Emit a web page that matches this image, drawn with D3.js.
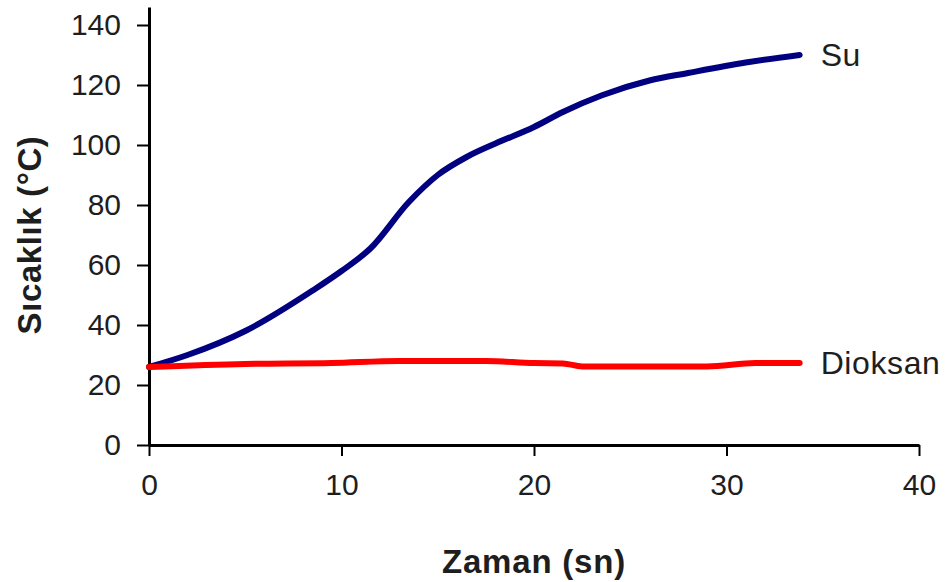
<!DOCTYPE html>
<html>
<head>
<meta charset="utf-8">
<script src="https://cdn.jsdelivr.net/npm/d3@7/dist/d3.min.js"></script>
<style>
  html, body { margin: 0; padding: 0; background: #fff; }
  svg { display: block; }
  text { font-family: "Liberation Sans", Arial, sans-serif; fill: #1e1e1e; }
</style>
</head>
<body>
<svg id="chart" width="952" height="582"></svg>
<script>
// Temperature (°C) over time (s) for two solvents
const suTime      = [0, 2, 5, 8.5, 10, 11.5, 13.5, 15, 16.5, 18, 20, 21.5, 23.5, 26, 28, 31, 33.8];
const suTemp      = [26, 30, 38, 51.5, 58, 65.5, 81, 90, 96, 100.5, 106, 111, 116.5, 121.5, 124, 127.5, 130];
const dioksanTime = [0, 5, 9.5, 13, 17.5, 20, 21.5, 22.5, 29, 31.5, 33.8];
const dioksanTemp = [26, 27, 27.3, 28, 28, 27.3, 27.2, 26.2, 26.2, 27.3, 27.3];

const xTicks = [0, 10, 20, 30, 40];
const yTicks = [0, 20, 40, 60, 80, 100, 120, 140];

const seriesNames = ["Su", "Dioksan"];
const seriesColors = ["#000080", "#ff0000"];

const svg = d3.select("#chart");

const x = d3.scaleLinear().domain([0, 40]).range([149, 919]);
const y = d3.scaleLinear().domain([0, 146]).range([445, 7]);

// Axes: ticks point outward, as in a classic spreadsheet chart
const xAxis = d3.axisBottom(x).tickValues(xTicks).tickSizeInner(11).tickSizeOuter(0).tickPadding(18);
const yAxis = d3.axisLeft(y).tickValues(yTicks).tickSizeInner(12).tickSizeOuter(0).tickPadding(16);

const gx = svg.append("g").attr("transform", `translate(0,${y(0)})`).call(xAxis);
const gy = svg.append("g").attr("transform", `translate(${x(0)},0)`).call(yAxis);

[gx, gy].forEach(g => {
  g.select(".domain").attr("stroke", "#000").attr("stroke-width", 3);
  g.selectAll(".tick line").attr("stroke", "#000").attr("stroke-width", 2);
  g.selectAll(".tick text")
    .attr("font-family", "Liberation Sans, Arial, sans-serif")
    .attr("font-size", 30)
    .attr("fill", "#1e1e1e");
});

// Lines
const line = d3.line().x(d => x(d[0])).y(d => y(d[1])).curve(d3.curveMonotoneX);
const series = [
  d3.zip(suTime, suTemp),
  d3.zip(dioksanTime, dioksanTemp)
];

series.forEach((pts, i) => {
  svg.append("path")
    .datum(pts)
    .attr("fill", "none")
    .attr("stroke", seriesColors[i])
    .attr("stroke-width", 6)
    .attr("stroke-linejoin", "round")
    .attr("stroke-linecap", "round")
    .attr("d", line);

  const last = pts[pts.length - 1];
  svg.append("text")
    .attr("x", x(last[0]) + 21)
    .attr("y", y(last[1]))
    .attr("dy", "0.35em")
    .attr("font-size", 32)
    .attr("letter-spacing", 0.6)
    .text(seriesNames[i]);
});

// Axis titles
svg.append("text")
  .attr("x", (x(0) + x(40)) / 2)
  .attr("y", 573)
  .attr("text-anchor", "middle")
  .attr("font-size", 33)
  .attr("letter-spacing", 0.8)
  .attr("font-weight", "bold")
  .text("Zaman (sn)");

svg.append("text")
  .attr("transform", `translate(29,${(y(0) + y(140)) / 2}) rotate(-90)`)
  .attr("text-anchor", "middle")
  .attr("dy", "0.35em")
  .attr("font-size", 33)
  .attr("letter-spacing", 0.6)
  .attr("font-weight", "bold")
  .text("Sıcaklık (°C)");
</script>
</body>
</html>
